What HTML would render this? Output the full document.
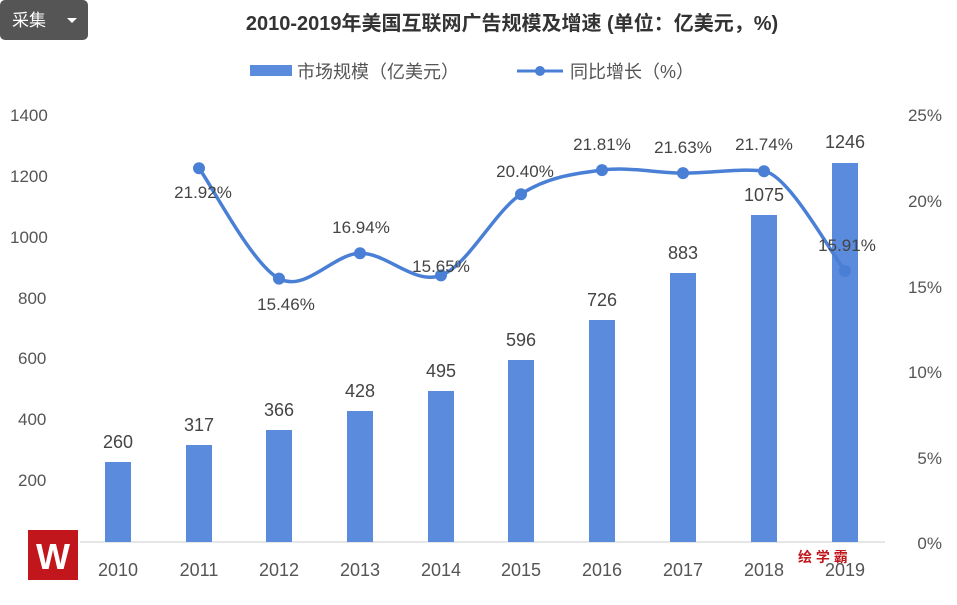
<!DOCTYPE html>
<html><head><meta charset="utf-8"><style>
body{margin:0;background:#fff;width:957px;height:600px;overflow:hidden;font-family:"Liberation Sans","Noto Sans CJK SC",sans-serif}
</style></head><body>
<svg width="957" height="600" xmlns="http://www.w3.org/2000/svg" font-family="Liberation Sans, Noto Sans CJK SC, sans-serif">
<rect x="0" y="0" width="88" height="40" rx="5" fill="#555"/>
<text x="12" y="26" font-size="17" fill="#fff">采集</text>
<path d="M67 18 L77 18 L72 23 Z" fill="#fff"/>
<text x="512" y="30" font-size="20" font-weight="bold" fill="#333" text-anchor="middle">2010-2019年美国互联网广告规模及增速 (单位：亿美元，%)</text>
<rect x="250" y="65" width="42" height="11" fill="#5b8bdc"/>
<text x="297" y="78" font-size="18" fill="#555">市场规模（亿美元）</text>
<line x1="517" y1="71" x2="563" y2="71" stroke="#4a7fd6" stroke-width="3"/>
<circle cx="540" cy="71" r="5" fill="#4a7fd6"/>
<text x="570" y="78" font-size="18" fill="#555">同比增长（%）</text>
<g font-size="17" fill="#555" text-anchor="start">
<text x="10" y="121">1400</text><text x="10" y="182">1200</text><text x="10" y="243">1000</text>
<text x="18" y="304">800</text><text x="18" y="364">600</text><text x="18" y="425">400</text><text x="18" y="486">200</text>
</g>
<g font-size="17" fill="#555" text-anchor="end">
<text x="942" y="121">25%</text><text x="942" y="207">20%</text><text x="942" y="293">15%</text>
<text x="942" y="378">10%</text><text x="942" y="464">5%</text><text x="942" y="549">0%</text>
</g>
<line x1="80" y1="542" x2="885" y2="542" stroke="#ccc" stroke-width="1"/>
<g fill="#5b8bdc">
<rect x="105" y="462" width="26" height="80"/>
<rect x="186" y="445" width="26" height="97"/>
<rect x="266" y="430" width="26" height="112"/>
<rect x="347" y="411" width="26" height="131"/>
<rect x="428" y="391" width="26" height="151"/>
<rect x="508" y="360" width="26" height="182"/>
<rect x="589" y="320" width="26" height="222"/>
<rect x="670" y="273" width="26" height="269"/>
<rect x="751" y="215" width="26" height="327"/>
<rect x="832" y="163" width="26" height="379"/>
</g>
<g font-size="18" fill="#444" text-anchor="middle">
<text x="118" y="448">260</text><text x="199" y="431">317</text><text x="279" y="416">366</text>
<text x="360" y="397">428</text><text x="441" y="377">495</text><text x="521" y="346">596</text>
<text x="602" y="306">726</text><text x="683" y="259">883</text><text x="764" y="201">1075</text>
<text x="845" y="148">1246</text>
</g>
<path d="M199 168.2 C212.3 186.6 252.2 264.4 279 278.6 C305.8 292.8 333 253.8 360 253.3 C387 252.8 414.2 285.3 441 275.4 C467.8 265.6 494.2 211.8 521 194.2 C547.8 176.7 575 173.6 602 170.1 C629 166.6 656 172.9 683 173.1 C710 173.3 740 168 764 171.2 C788 174.5 828 248 845 271" fill="none" stroke="#4a7fd6" stroke-width="3.5"/>
<g fill="#4a7fd6">
<circle cx="199" cy="168.2" r="6"/><circle cx="279" cy="278.6" r="6"/><circle cx="360" cy="253.3" r="6"/>
<circle cx="441" cy="275.4" r="6"/><circle cx="521" cy="194.2" r="6"/><circle cx="602" cy="170.1" r="6"/>
<circle cx="683" cy="173.1" r="6"/><circle cx="764" cy="171.2" r="6"/><circle cx="845" cy="271" r="6"/>
</g>
<g font-size="17" fill="#444" text-anchor="middle">
<text x="203" y="198">21.92%</text><text x="286" y="310">15.46%</text><text x="361" y="233">16.94%</text>
<text x="441" y="272">15.65%</text><text x="525" y="177">20.40%</text><text x="602" y="150">21.81%</text>
<text x="683" y="153">21.63%</text><text x="764" y="150">21.74%</text><text x="847" y="251">15.91%</text>
</g>
<g font-size="18" fill="#555" text-anchor="middle">
<text x="118" y="576">2010</text><text x="199" y="576">2011</text><text x="279" y="576">2012</text>
<text x="360" y="576">2013</text><text x="441" y="576">2014</text><text x="521" y="576">2015</text>
<text x="602" y="576">2016</text><text x="683" y="576">2017</text><text x="764" y="576">2018</text>
<text x="845" y="576">2019</text>
</g>
<rect x="28" y="530" width="50" height="50" fill="#c0161c"/>
<text x="53" y="569" font-size="36" font-weight="bold" fill="#fff" text-anchor="middle">W</text>
<text x="798" y="562" font-size="14" font-weight="bold" fill="#c0161c">绘 学 霸</text>
</svg>
</body></html>
